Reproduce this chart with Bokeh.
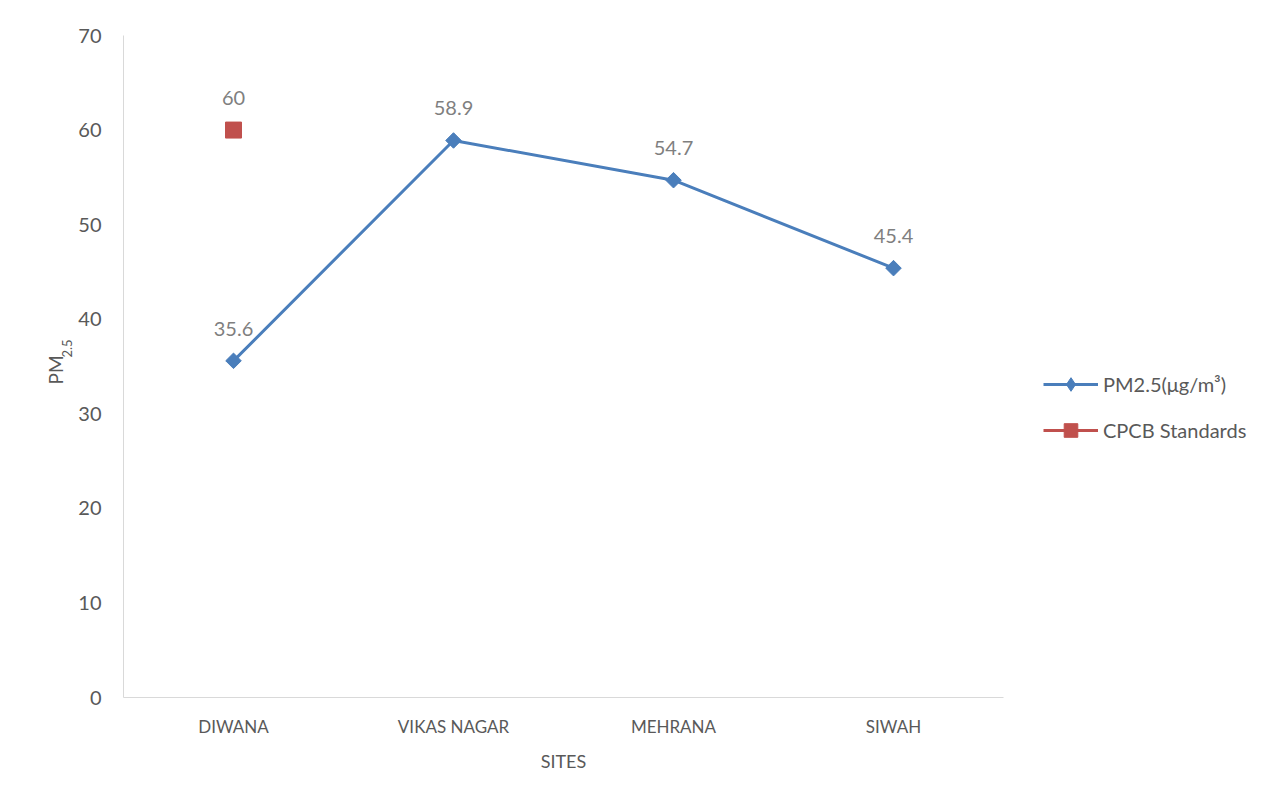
import math
from bokeh.plotting import figure
from bokeh.models import (ColumnDataSource, FactorRange, Range1d, FixedTicker, Legend,
                          LegendItem, Label)
from bokeh.core.properties import value
from bokeh.embed import file_html
from bokeh.resources import INLINE

sites = ["DIWANA", "VIKAS NAGAR", "MEHRANA", "SIWAH"]
pm25 = [35.6, 58.9, 54.7, 45.4]
cpcb_sites = ["DIWANA"]
cpcb = [60]
y_ticks = [0, 10, 20, 30, 40, 50, 60, 70]

FONT = "Lato"
BLUE = "#4a7ebb"
RED = "#c0504d"

p = figure(frame_width=880, frame_height=662, x_range=FactorRange(*sites), y_range=Range1d(0, 70),
           output_backend="svg", toolbar_location=None,
           min_border_left=123, min_border_right=262, min_border_top=35, min_border_bottom=91)
p.outline_line_color = None
p.xgrid.grid_line_color = None
p.ygrid.grid_line_color = None
p.background_fill_color = "white"
p.border_fill_color = "white"

src = ColumnDataSource(dict(x=sites, y=pm25, lbl=[f"{v:.1f}" for v in pm25]))
src2 = ColumnDataSource(dict(x=cpcb_sites, y=cpcb, lbl=[str(v) for v in cpcb]))

l1 = p.line("x", "y", source=src, line_color=BLUE, line_width=3)
s1 = p.scatter("x", "y", source=src, marker="square", angle=math.pi / 4, size=11,
               fill_color=BLUE, line_color=BLUE)
l2 = p.line("x", "y", source=src2, line_color=RED, line_width=3)
s2 = p.scatter("x", "y", source=src2, marker="square", size=16, fill_color=RED, line_color=RED)
# legend-only swatch marker (not drawn in the plot: no finite y value)
s1_leg = p.scatter(x=sites[:1], y=[float("nan")], marker="diamond",
                   fill_color=BLUE, line_color=BLUE)

for s in (src, src2):
    p.text("x", "y", text="lbl", source=s, text_font=value(FONT), text_font_size="20px",
           text_color="#7f7f7f", text_align="center", text_baseline="middle", y_offset=-32)

# axes
p.yaxis.ticker = FixedTicker(ticks=y_ticks)
for ax in (p.xaxis[0], p.yaxis[0]):
    ax.axis_line_color = "#d9d9d9"
    ax.axis_line_width = 1
    ax.major_tick_line_color = None
    ax.minor_tick_line_color = None
    ax.major_tick_out = 0
    ax.major_tick_in = 0
    ax.major_label_text_color = "#595959"
    ax.major_label_text_font = FONT
p.yaxis.major_label_text_font_size = "20px"
p.yaxis.major_label_standoff = 22
p.xaxis.major_label_text_font_size = "17px"
p.xaxis.major_label_standoff = 18
p.xaxis.axis_label = "SITES"
p.xaxis.axis_label_text_font = FONT
p.xaxis.axis_label_text_font_size = "18px"
p.xaxis.axis_label_text_font_style = "normal"
p.xaxis.axis_label_text_color = "#595959"
p.xaxis.axis_label_standoff = 10

# y axis title with subscript, as labels in the left panel
p.add_layout(Label(x=3, y=313, x_units="screen", y_units="screen", text="PM",
                   angle=math.pi / 2, text_align="left", text_baseline="middle",
                   text_font=FONT, text_font_size="19px", text_color="#595959"), "left")
p.add_layout(Label(x=24, y=340, x_units="screen", y_units="screen", text="2.5",
                   angle=math.pi / 2, text_align="left", text_baseline="middle",
                   text_font=FONT, text_font_size="13px", text_color="#595959"), "left")

legend = Legend(items=[LegendItem(label="PM2.5(μg/m³)", renderers=[l1, s1_leg]),
                       LegendItem(label="CPCB Standards", renderers=[l2, s2])],
                location=(40, 250), glyph_width=55, glyph_height=34, label_height=20,
                spacing=12, padding=0, margin=0, label_standoff=5,
                label_text_font=FONT, label_text_font_size="20px", label_text_color="#595959",
                border_line_color=None, background_fill_alpha=0)
p.add_layout(legend, "right")

open("out.html", "w").write(file_html(p, INLINE))
